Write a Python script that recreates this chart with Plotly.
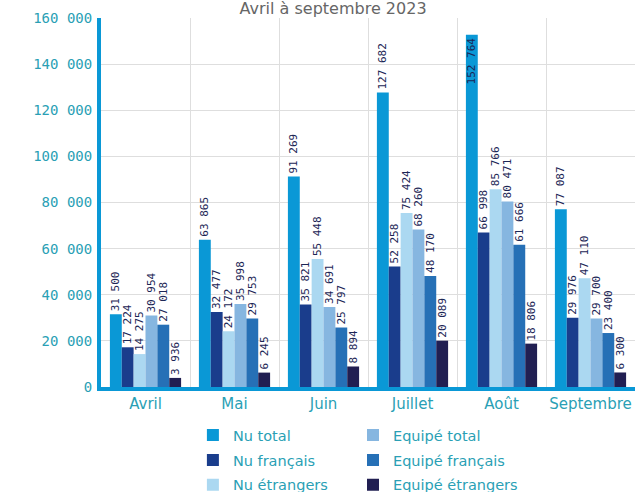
import plotly.graph_objects as go

months = ["Avril", "Mai", "Juin", "Juillet", "Août", "Septembre"]
nu_total = [31500, 63865, 91269, 127682, 152764, 77087]
nu_francais = [17224, 32477, 35821, 52258, 66998, 29976]
nu_etrangers = [14275, 24172, 55448, 75424, 85766, 47110]
equipe_total = [30954, 35998, 34691, 68260, 80471, 29700]
equipe_francais = [27018, 29753, 25797, 48170, 61666, 23400]
equipe_etrangers = [3936, 6245, 8894, 20089, 18806, 6300]

series_names = ["Nu total", "Nu français", "Nu étrangers",
                "Equipé total", "Equipé français", "Equipé étrangers"]
series_values = [nu_total, nu_francais, nu_etrangers,
                 equipe_total, equipe_francais, equipe_etrangers]
colors = ["#0a98d6", "#1a3d8c", "#abd8f1", "#86b6e0", "#2670b6", "#211f52"]
legends = ["legend", "legend", "legend", "legend2", "legend2", "legend2"]

YMAX = 160000
label_font = dict(family="DejaVu Sans Mono", size=11, color="#1c2656")
teal = "#2a9fb5"

fig = go.Figure()
for name, vals, col, lg in zip(series_names, series_values, colors, legends):
    positions = ["inside" if v > 140000 else "outside" for v in vals]
    fig.add_trace(go.Bar(
        x=months, y=vals, name=name,
        marker=dict(color=col, line=dict(width=0)),
        text=vals, texttemplate="%{y:,d}",
        textposition=positions, textangle=-90,
        insidetextanchor="end",
        textfont=label_font, insidetextfont=label_font, outsidetextfont=label_font,
        constraintext="none", cliponaxis=False,
        legend=lg, legendgroup=name,
    ))

legend_common = dict(
    xref="container", yref="container", y=0.148, yanchor="top", xanchor="left",
    orientation="v", traceorder="grouped", tracegroupgap=3,
    font=dict(family="DejaVu Sans", size=14.5, color=teal),
    bgcolor="rgba(0,0,0,0)",
)

fig.update_layout(
    width=643, height=492,
    margin=dict(l=101, r=8, t=18, b=105, autoexpand=False),
    paper_bgcolor="white", plot_bgcolor="white",
    separators=", ",
    barmode="group", bargap=0.2, bargroupgap=0,
    title=dict(text="Avril à septembre 2023", x=0.518, xref="container",
               y=0.982, yref="container", yanchor="middle", xanchor="center",
               pad=dict(t=0, b=0),
               font=dict(family="DejaVu Sans", size=16, color="#666666")),
    xaxis=dict(
        type="category", tickson="boundaries", showgrid=True, gridcolor="#dedede",
        gridwidth=1, showline=True, linecolor="#0a98d6", linewidth=4,
        ticks="", tickangle=0, tickfont=dict(family="DejaVu Sans", size=15, color=teal),
        range=[-0.5, 5.5], automargin=False,
    ),
    yaxis=dict(
        range=[0, YMAX], tickvals=list(range(0, YMAX + 1, 20000)), tickformat=",d",
        showgrid=True, gridcolor="#dedede", gridwidth=1,
        showline=True, linecolor="#0a98d6", linewidth=4, zeroline=False,
        ticks="", ticklabelstandoff=2, automargin=False,
        tickfont=dict(family="DejaVu Sans Mono", size=14, color=teal),
    ),
    legend=dict(x=0.300, **legend_common),
    legend2=dict(x=0.549, **legend_common),
    showlegend=True,
)

fig.write_html("out.html", config={"displayModeBar": False},
               post_script="document.body.style.margin='0';")
